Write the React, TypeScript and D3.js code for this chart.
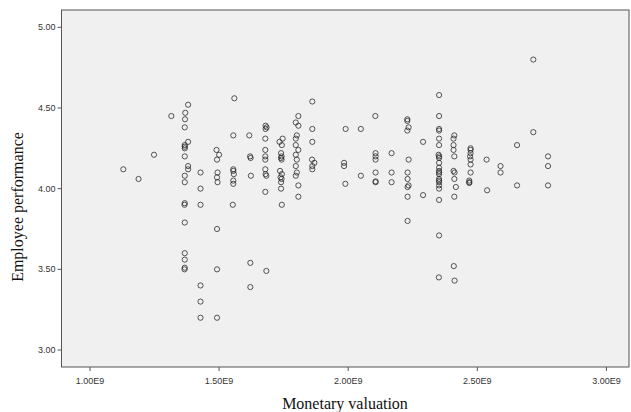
import * as d3 from "d3";

// monetary valuation (x) and employee performance (y), one entry per employee
const valuation = [
  1.129, 1.188, 1.248, 1.315, 1.38, 1.369, 1.368, 1.367, 1.38, 1.367, 1.367, 1.367, 1.367,
  1.38, 1.38, 1.367, 1.367, 1.367, 1.366, 1.367, 1.367, 1.367, 1.367, 1.366,
  1.428, 1.428, 1.428, 1.428, 1.428, 1.428,
  1.49, 1.5, 1.492, 1.494, 1.492, 1.494, 1.492, 1.492, 1.492,
  1.559, 1.555, 1.555, 1.555, 1.557, 1.555, 1.555, 1.553,
  1.617, 1.62, 1.622, 1.623, 1.621, 1.621,
  1.68, 1.684, 1.68, 1.679, 1.679, 1.679, 1.679, 1.679, 1.68, 1.683, 1.679, 1.683,
  1.734, 1.746, 1.743, 1.74, 1.742, 1.74, 1.742, 1.736, 1.743, 1.738, 1.742, 1.74, 1.74, 1.743,
  1.807, 1.797, 1.807, 1.801, 1.797, 1.797, 1.807, 1.797, 1.801, 1.797, 1.801, 1.797, 1.807, 1.807,
  1.861, 1.861, 1.861, 1.86, 1.869, 1.861, 1.861,
  1.99, 1.984, 1.984, 1.989, 2.049, 2.049,
  2.105, 2.106, 2.106, 2.106, 2.106, 2.106, 2.106,
  2.168, 2.168, 2.168,
  2.229, 2.229, 2.234, 2.229, 2.234, 2.23, 2.23, 2.234, 2.23, 2.23, 2.23,
  2.29, 2.29,
  2.352, 2.352, 2.352, 2.352, 2.352, 2.352, 2.35, 2.352, 2.352, 2.352, 2.352, 2.352, 2.352,
  2.352, 2.352, 2.352, 2.352, 2.352, 2.352, 2.352, 2.352, 2.351,
  2.411, 2.408, 2.408, 2.408, 2.411, 2.408, 2.412, 2.411, 2.417, 2.411, 2.409, 2.412,
  2.474, 2.474, 2.474, 2.472, 2.474, 2.474, 2.474, 2.469, 2.469, 2.469,
  2.536, 2.538, 2.59, 2.59, 2.654, 2.654, 2.717, 2.717, 2.774, 2.774, 2.774,
].map((v) => v * 1e9);

const performance = [
  4.12, 4.06, 4.21, 4.45, 4.52, 4.47, 4.43, 4.38, 4.29, 4.27, 4.26, 4.25, 4.2,
  4.14, 4.12, 4.08, 4.04, 3.91, 3.9, 3.79, 3.6, 3.56, 3.51, 3.5,
  4.1, 4.0, 3.9, 3.4, 3.3, 3.2,
  4.24, 4.21, 4.18, 4.1, 4.07, 4.04, 3.75, 3.5, 3.2,
  4.56, 4.33, 4.12, 4.11, 4.09, 4.05, 4.03, 3.9,
  4.33, 4.2, 4.19, 4.08, 3.54, 3.39,
  4.39, 4.38, 4.37, 4.31, 4.24, 4.2, 4.18, 4.12, 4.09, 4.08, 3.98, 3.49,
  4.29, 4.31, 4.27, 4.22, 4.2, 4.19, 4.18, 4.11, 4.09, 4.07, 4.06, 4.04, 4.0, 3.9,
  4.45, 4.41, 4.39, 4.33, 4.31, 4.27, 4.24, 4.21, 4.18, 4.14, 4.1, 4.08, 4.02, 3.95,
  4.54, 4.37, 4.29, 4.18, 4.16, 4.14, 4.12,
  4.37, 4.16, 4.14, 4.03, 4.37, 4.08,
  4.45, 4.22, 4.2, 4.18, 4.1, 4.045, 4.04,
  4.22, 4.1, 4.04,
  4.43, 4.42, 4.38, 4.36, 4.18, 4.1, 4.06, 4.02, 4.01, 3.95, 3.8,
  4.29, 3.96,
  4.58, 4.45, 4.37, 4.36, 4.31, 4.27, 4.21, 4.2, 4.19, 4.16, 4.13, 4.11, 4.1,
  4.09, 4.06, 4.05, 4.04, 4.02, 4.0, 3.93, 3.71, 3.45,
  4.33, 4.31, 4.27, 4.24, 4.2, 4.11, 4.1, 4.06, 4.01, 3.95, 3.52, 3.43,
  4.25, 4.24, 4.22, 4.2, 4.18, 4.15, 4.1, 4.05, 4.04, 4.035,
  4.18, 3.99, 4.14, 4.1, 4.27, 4.02, 4.8, 4.35, 4.2, 4.14, 4.02,
];

const xTicks = [1e9, 1.5e9, 2e9, 2.5e9, 3e9];
const yTicks = [3, 3.5, 4, 4.5, 5];

const W = 631;
const H = 412;
const frame = { left: 61.5, right: 629, top: 10, bottom: 367 };

export default function App() {
  const x = d3.scaleLinear().domain([1e9, 3e9]).range([90, 606.4]);
  const y = d3.scaleLinear().domain([3, 5]).range([350, 27.3]);
  const fmtX = (d: number) => (d / 1e9).toFixed(2) + "E9";

  return (
    <svg
      width={W}
      height={H}
      style={{ position: "absolute", left: 0, top: 0, background: "#fff" }}
    >
      <rect
        x={frame.left}
        y={frame.top}
        width={frame.right - frame.left}
        height={frame.bottom - frame.top}
        fill="#f0f0f0"
        stroke="#555"
        strokeWidth={1}
      />
      {/* y axis */}
      {yTicks.map((t) => (
        <g key={t}>
          <line x1={frame.left - 4} x2={frame.left} y1={y(t)} y2={y(t)} stroke="#555" />
          <text
            x={frame.left - 6}
            y={y(t)}
            dy="0.35em"
            textAnchor="end"
            fontFamily="'Liberation Sans', Arial, sans-serif"
            fontSize={9}
            fill="#333"
          >
            {t.toFixed(2)}
          </text>
        </g>
      ))}
      {/* x axis */}
      {xTicks.map((t) => (
        <g key={t}>
          <line x1={x(t)} x2={x(t)} y1={frame.bottom} y2={frame.bottom + 4} stroke="#555" />
          <text
            x={x(t)}
            y={frame.bottom + 14}
            dy="0.35em"
            textAnchor="middle"
            fontFamily="'Liberation Sans', Arial, sans-serif"
            fontSize={9}
            fill="#333"
          >
            {fmtX(t)}
          </text>
        </g>
      ))}
      {/* points */}
      {valuation.map((v, i) => (
        <circle
          key={i}
          cx={x(v)}
          cy={y(performance[i])}
          r={2.6}
          fill="none"
          stroke="#222"
          strokeOpacity={0.75}
          strokeWidth={1}
        />
      ))}
      <text
        x={345}
        y={403}
        dy="0.35em"
        textAnchor="middle"
        fontFamily="'Liberation Serif', 'Times New Roman', serif"
        fontSize={16}
        fill="#111"
      >
        Monetary valuation
      </text>
      <text
        transform="translate(17,207) rotate(-90)"
        dy="0.35em"
        textAnchor="middle"
        fontFamily="'Liberation Serif', 'Times New Roman', serif"
        fontSize={16}
        fill="#111"
      >
        Employee performance
      </text>
    </svg>
  );
}
